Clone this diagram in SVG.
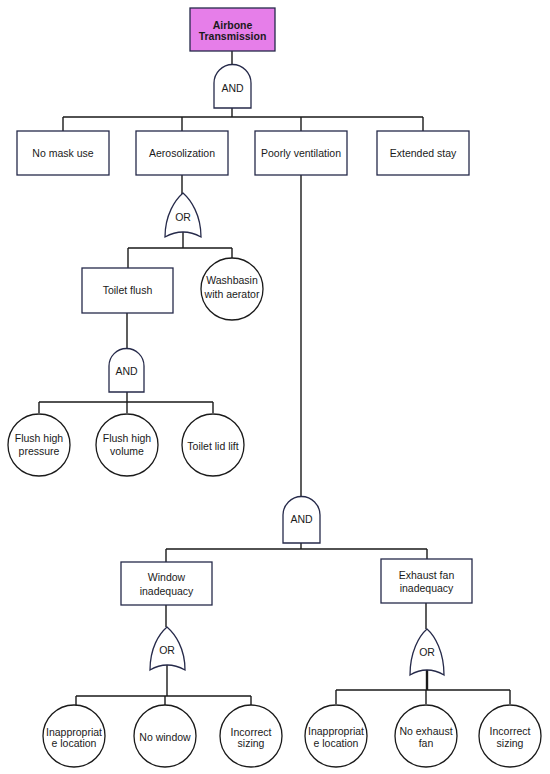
<svg xmlns="http://www.w3.org/2000/svg" width="550" height="774" viewBox="0 0 550 774">
<style>
.bg{fill:#fff}
.box{fill:#fff;stroke:#262a4a;stroke-width:1.3}
.top{fill:#e67ee9;stroke:#262a4a;stroke-width:1.3}
.gate{fill:#fff;stroke:#262a4a;stroke-width:1.3}
.ev{fill:#fff;stroke:#1a1a1a;stroke-width:1.3}
.ln{fill:none;stroke:#1a1a1a;stroke-width:1.4}
.thk{fill:none;stroke:#1a1a1a;stroke-width:2.4}
text{font-family:"Liberation Sans",Arial,sans-serif;font-size:10.5px;fill:#1a1a1a;text-anchor:middle}
.b{font-weight:bold}
</style>
<rect class="bg" x="0" y="0" width="550" height="774"/>
<g id="connectors">
<path class="ln" d="M232,51V65M232,108V117M63,117H423M63,117V131M182,117V131M301,117V131M423,117V131"/>
<path class="ln" d="M182,175V194M183,232V248M128,248H232M128,248V268M232,248V258"/>
<path class="ln" d="M127,313V348M127,392V402M39,402H213M39,402V413M127,402V413M213,402V413"/>
<path class="ln" d="M301,175V497M301,543V549M166,549H427M166,549V562M427,549V559"/>
<path class="ln" d="M166,605V627M167,665V696M76,696H251M76,696V722M165,696V705M251,696V705"/>
<path class="ln" d="M426,603V629M336,690H510M336,690V704M426,690V704M510,690V704"/>
<path class="thk" d="M427,670V690"/>
</g>
<g id="top-event">
<rect class="top" x="190" y="8" width="85" height="43"/>
<text class="b" x="232.5" y="29">Airbone</text>
<text class="b" x="232.5" y="40">Transmission</text>
</g>
<g id="gate-and-top">
<path class="gate" d="M214,108V83A18.5,18.5 0 0 1 251,83V108Z"/>
<text x="232.5" y="92">AND</text>
</g>
<g id="no-mask-use">
<rect class="box" x="17" y="131" width="92" height="44"/>
<text x="63" y="157">No mask use</text>
</g>
<g id="aerosolization">
<rect class="box" x="136" y="131" width="92" height="44"/>
<text x="182" y="157">Aerosolization</text>
</g>
<g id="poorly-ventilation">
<rect class="box" x="255" y="131" width="92" height="44"/>
<text x="301" y="157">Poorly ventilation</text>
</g>
<g id="extended-stay">
<rect class="box" x="377" y="131" width="92" height="44"/>
<text x="423" y="157">Extended stay</text>
</g>
<g id="gate-or-aerosol">
<path class="gate" d="M165,237C165,215 175,200 183,193C191,200 201,215 201,237Q183,227 165,237Z"/>
<text x="183" y="221">OR</text>
</g>
<g id="toilet-flush">
<rect class="box" x="82" y="268" width="91" height="45"/>
<text x="127.5" y="294">Toilet flush</text>
</g>
<g id="washbasin">
<circle class="ev" cx="232" cy="289" r="31"/>
<text x="232" y="284">Washbasin</text>
<text x="232" y="298">with aerator</text>
</g>
<g id="gate-and-flush">
<path class="gate" d="M109,392V366A17.5,17.5 0 0 1 144,366V392Z"/>
<text x="126.5" y="375">AND</text>
</g>
<g id="flush-high-pressure">
<circle class="ev" cx="39" cy="445" r="31"/>
<text x="39" y="442">Flush high</text>
<text x="39" y="455">pressure</text>
</g>
<g id="flush-high-volume">
<circle class="ev" cx="127" cy="445" r="31"/>
<text x="127" y="442">Flush high</text>
<text x="127" y="455">volume</text>
</g>
<g id="toilet-lid-lift">
<circle class="ev" cx="213" cy="445" r="31"/>
<text x="213" y="450">Toilet lid lift</text>
</g>
<g id="gate-and-vent">
<path class="gate" d="M283,543V515A18.5,18.5 0 0 1 320,515V543Z"/>
<text x="301.5" y="523">AND</text>
</g>
<g id="window-inadequacy">
<rect class="box" x="121" y="562" width="91" height="43"/>
<text x="166.5" y="581">Window</text>
<text x="166.5" y="595">inadequacy</text>
</g>
<g id="exhaust-fan-inadequacy">
<rect class="box" x="381" y="559" width="91" height="44"/>
<text x="426.5" y="579">Exhaust fan</text>
<text x="426.5" y="592">inadequacy</text>
</g>
<g id="gate-or-window">
<path class="gate" d="M150,670C150,648 159,634 167,627C175,634 185,648 185,670Q167,660 150,670Z"/>
<text x="167" y="654">OR</text>
</g>
<g id="gate-or-exhaust">
<path class="gate" d="M410,675C410,652 419,636 427,629C435,636 444,652 444,675Q427,665 410,675Z"/>
<text x="427" y="656">OR</text>
</g>
<g id="w-inappropriate-location">
<circle class="ev" cx="74" cy="736" r="31"/>
<text x="74" y="736">Inappropriat</text>
<text x="74" y="747">e location</text>
</g>
<g id="no-window">
<circle class="ev" cx="165" cy="736" r="31"/>
<text x="165" y="741">No window</text>
</g>
<g id="w-incorrect-sizing">
<circle class="ev" cx="251" cy="736" r="31"/>
<text x="251" y="736">Incorrect</text>
<text x="251" y="747">sizing</text>
</g>
<g id="e-inappropriate-location">
<circle class="ev" cx="336" cy="736" r="31"/>
<text x="336" y="735">Inappropriat</text>
<text x="336" y="747">e location</text>
</g>
<g id="no-exhaust-fan">
<circle class="ev" cx="426" cy="736" r="31"/>
<text x="426" y="735">No exhaust</text>
<text x="426" y="747">fan</text>
</g>
<g id="e-incorrect-sizing">
<circle class="ev" cx="510" cy="736" r="31"/>
<text x="510" y="735">Incorrect</text>
<text x="510" y="747">sizing</text>
</g>
</svg>
